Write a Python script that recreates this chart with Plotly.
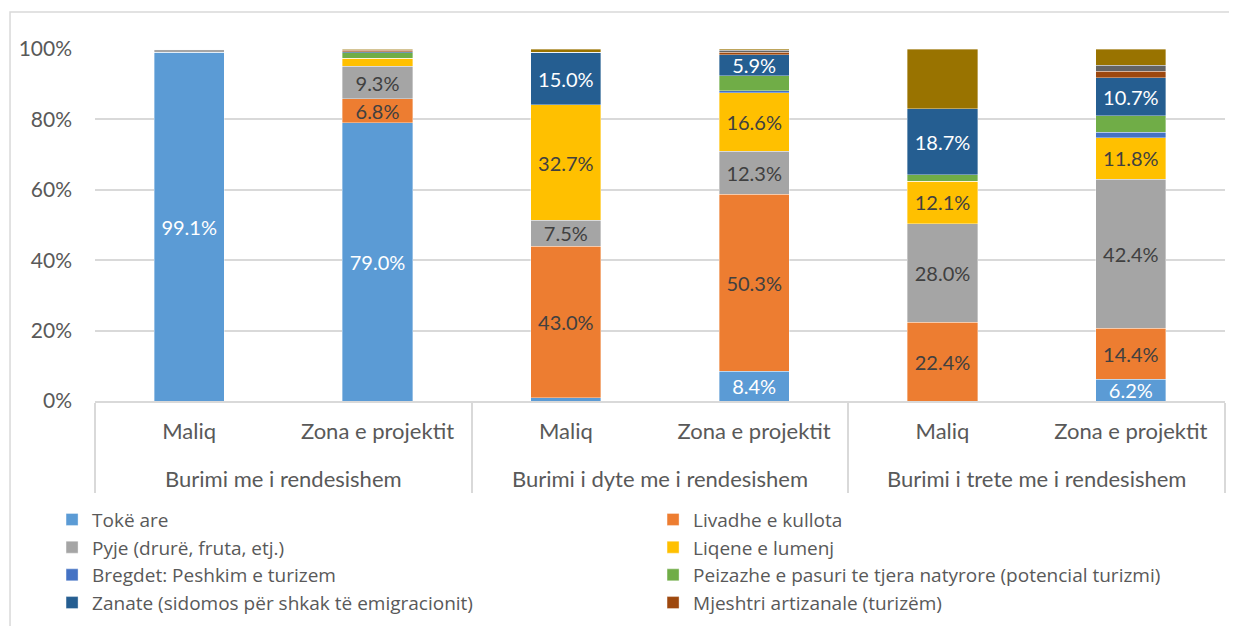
import plotly.graph_objects as go

groups = ["Burimi me i rendesishem", "Burimi me i rendesishem",
          "Burimi i dyte me i rendesishem", "Burimi i dyte me i rendesishem",
          "Burimi i trete me i rendesishem", "Burimi i trete me i rendesishem"]
subcats = ["Maliq", "Zona e projektit", "Maliq", "Zona e projektit", "Maliq", "Zona e projektit"]

series_names = [
    "Tokë are",
    "Livadhe e kullota",
    "Pyje (drurë, fruta, etj.)",
    "Liqene e lumenj",
    "Bregdet: Peshkim e turizem",
    "Peizazhe e pasuri te tjera natyrore (potencial turizmi)",
    "Zanate (sidomos për shkak të emigracionit)",
    "Mjeshtri artizanale (turizëm)",
    "Tjetër",
    "Nuk e di",
]

toke_are   = [99.1, 79.0, 0.9, 8.4, 0.0, 6.2]
livadhe    = [0.0, 6.8, 43.0, 50.3, 22.4, 14.4]
pyje       = [0.9, 9.3, 7.5, 12.3, 28.0, 42.4]
liqene     = [0.0, 2.3, 32.7, 16.6, 12.1, 11.8]
bregdet    = [0.0, 0.0, 0.0, 0.5, 0.0, 1.6]
peizazhe   = [0.0, 1.6, 0.0, 4.3, 1.8, 4.7]
zanate     = [0.0, 0.2, 15.0, 5.9, 18.7, 10.7]
mjeshtri   = [0.0, 0.4, 0.0, 0.8, 0.0, 1.9]
tjeter     = [0.0, 0.2, 0.0, 0.5, 0.0, 1.7]
nuk_e_di   = [0.0, 0.2, 0.9, 0.4, 17.0, 4.6]

values = [toke_are, livadhe, pyje, liqene, bregdet, peizazhe, zanate, mjeshtri, tjeter, nuk_e_di]
colors = ["#5B9BD5", "#ED7D31", "#A5A5A5", "#FFC000", "#4472C4",
          "#70AD47", "#255E91", "#9E480E", "#636363", "#997300"]
text_colors = ["#FFFFFF", "#404040", "#404040", "#404040", "#FFFFFF",
               "#FFFFFF", "#FFFFFF", "#FFFFFF", "#FFFFFF", "#FFFFFF"]
labeled = [True, True, True, True, True, True, True, True, False, False]
in_legend = [True] * 8 + [False, False]

FONT = "Lato"
GREY = "#595959"

# trailing blank line makes the first label level taller so the group level sits lower
sub_display = [s + "<br>\u00a0" for s in subcats]

fig = go.Figure()
for name, vals, col, tcol, lab, leg in zip(series_names, values, colors, text_colors, labeled, in_legend):
    txt = [f"{v:.1f}%" if (lab and v >= 5) else "" for v in vals]
    fig.add_trace(go.Bar(
        x=[groups, sub_display], y=vals, name=name,
        marker=dict(color=col, line=dict(color="rgba(255,255,255,0.6)", width=0.6)),
        text=txt, texttemplate="%{text}", textposition="inside",
        insidetextanchor="middle", textangle=0,
        textfont=dict(family=FONT, size=20, color=tcol),
        showlegend=leg, hoverinfo="skip",
    ))

fig.update_layout(
    barmode="stack",
    bargap=0.628,
    width=1229, height=618,
    margin=dict(l=87, r=12, t=41, b=225, autoexpand=False),
    paper_bgcolor="white", plot_bgcolor="white",
    font=dict(family=FONT, size=21, color=GREY),
    uniformtext=dict(minsize=20, mode="show"),
    legend=dict(
        orientation="h", x=-0.038, xanchor="left", y=-0.283, yanchor="top",
        entrywidth=556, entrywidthmode="pixels",
        font=dict(family="Open Sans", size=19, color=GREY),
        itemwidth=30, traceorder="normal", tracegroupgap=0,
    ),
    shapes=[dict(type="rect", xref="paper", yref="paper",
                 x0=-0.0752, x1=1.2, y0=-1.0, y1=1.105,
                 line=dict(color="#D9D9D9", width=1.5), fillcolor="rgba(0,0,0,0)",
                 layer="below")],
)
fig.update_yaxes(range=[0, 100], tickvals=[0, 20, 40, 60, 80, 100],
                 ticktext=["0%", "20%", "40%", "60%", "80%", "100%"],
                 showgrid=True, gridcolor="#D9D9D9", gridwidth=1.5,
                 zeroline=False, ticks="", ticklabelstandoff=22,
                 tickfont=dict(family=FONT, size=21, color=GREY))
fig.update_xaxes(showline=True, linecolor="#D9D9D9", linewidth=1.5,
                 showdividers=True, dividercolor="#D9D9D9", dividerwidth=1.5,
                 ticklabelstandoff=10,
                 tickfont=dict(family=FONT, size=22, color=GREY), ticks="")

fig.write_html("out.html")
